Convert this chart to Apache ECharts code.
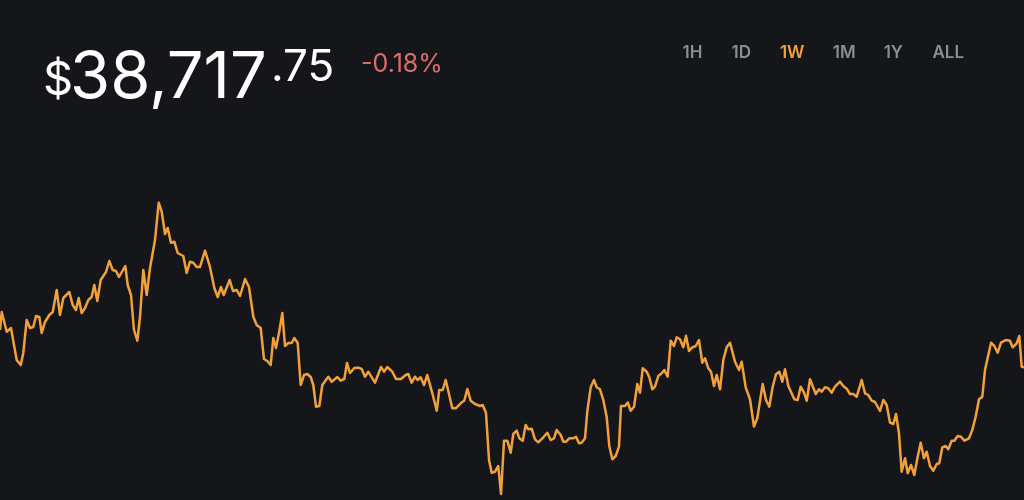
<!DOCTYPE html>
<html>
<head>
<meta charset="utf-8">
<script src="https://cdn.jsdelivr.net/npm/echarts@6/dist/echarts.min.js"></script>
<style>
html,body{margin:0;padding:0;background:#15161a;}
#chart{width:1024px;height:500px;}
</style>
</head>
<body>
<div id="chart"></div>
<script>
// hours since start of the week
const hours = [0,0.28,1.10,1.80,2.74,3.40,3.82,4.38,4.92,5.46,5.91,6.45,6.84,7.38,8.09,8.65,9.30,9.84,10.39,11.37,11.93,12.47,12.91,13.40,13.95,14.49,15.04,15.47,15.96,16.52,17.39,17.93,18.49,19.03,19.52,20.56,20.95,21.49,21.98,22.53,22.97,23.51,24.07,24.61,25.43,26.04,26.53,27.07,27.51,28.05,28.60,29.15,30.07,30.63,31.17,31.71,32.27,32.81,33.63,34.45,35.16,35.72,36.26,36.70,37.68,38.23,38.83,39.38,40.20,40.85,41.56,42.11,42.77,43.31,43.85,44.41,44.84,45.28,45.77,46.32,46.76,47.30,47.86,48.28,48.84,49.33,49.88,50.42,50.97,51.40,51.84,52.39,52.88,53.86,54.42,55.34,55.90,56.49,56.93,57.42,58.13,58.78,59.34,59.88,60.42,61.52,62.51,63.00,63.54,64.36,64.97,65.79,66.56,66.99,67.54,68.09,68.53,69.02,69.56,70.10,70.93,71.65,72.07,72.63,73.12,74.21,74.76,75.75,76.17,76.67,77.22,77.93,78.75,79.19,79.73,80.23,80.67,81.21,81.75,82.20,82.69,83.23,83.79,84.21,84.77,85.20,85.76,86.25,86.68,87.23,87.77,88.31,89.14,89.79,90.35,90.89,91.33,91.99,92.42,92.86,93.40,94.06,94.50,94.99,95.43,95.98,96.35,96.91,97.45,97.90,98.44,98.98,99.54,99.96,100.46,101.01,101.55,101.88,102.54,102.98,103.47,104.02,104.56,105.00,105.44,106.10,106.53,107.02,107.46,108.00,108.56,108.99,109.54,110.04,110.58,111.02,111.56,112.10,112.55,113.04,113.58,114.14,114.68,115.22,115.67,116.21,116.65,117.14,117.58,118.13,118.67,119.22,119.77,120.59,121.24,121.68,122.34,123.05,123.70,124.24,125.13,125.67,126.21,126.77,127.31,127.85,128.34,128.79,129.33,130.32,130.87,131.36,131.91,132.35,132.89,133.83,134.37,134.81,135.35,135.89,136.45,136.99,137.81,138.35,138.91,139.45,139.99,140.55,141.37,141.91,142.45,143.01,143.55,144.38,144.92,145.47,146.02,146.56,147.00,147.49,147.93,148.48,148.92,149.46,150.00,150.56,151.05,151.59,152.03,152.58,153.12,153.68,154.10,154.60,155.15,155.58,156.14,156.57,157.12,157.66,158.21,158.97,159.52,160.07,160.62,161.16,161.60,162.59,163.13,163.68,164.23,165.00,165.70,166.14,166.80,167.23,167.62,168];
// BTC price (USD)
const prices = [39090,39270,39073,39110,38790,38740,38860,39190,39110,39120,39230,39220,39060,39170,39240,39270,39490,39240,39410,39470,39340,39290,39410,39260,39310,39390,39420,39540,39380,39590,39670,39780,39690,39680,39620,39730,39540,39440,39090,38983,39220,39690,39440,39710,39990,40363,40273,40050,40110,39963,39973,39860,39830,39660,39773,39763,39720,39720,39883,39720,39510,39420,39520,39440,39590,39480,39490,39430,39600,39520,39223,39140,39110,38800,38780,38740,39010,38910,39060,39260,38930,38960,38960,39010,38960,38540,38640,38650,38620,38540,38323,38330,38540,38623,38573,38620,38583,38600,38760,38660,38710,38713,38700,38623,38673,38563,38720,38673,38720,38673,38600,38600,38640,38650,38563,38623,38590,38617,38540,38640,38457,38283,38490,38490,38590,38307,38307,38367,38383,38500,38383,38350,38330,38340,38263,37790,37663,37673,37730,37450,37983,37983,37863,38050,38083,38007,37983,38140,38097,38103,37997,37967,38017,38063,37990,38007,38090,38040,37973,37973,38007,38007,38023,37957,37963,38007,38273,38517,38590,38517,38497,38390,38217,37930,37797,37830,37923,38330,38330,38365,38283,38323,38550,38463,38707,38673,38617,38497,38523,38630,38657,38690,38623,38983,38930,39017,38997,38917,39033,38880,38917,38930,38990,38763,38807,38707,38673,38530,38640,38497,38790,38917,38963,38773,38690,38773,38517,38395,38125,38207,38550,38390,38323,38523,38647,38673,38573,38697,38530,38397,38390,38523,38463,38383,38597,38450,38497,38473,38517,38507,38463,38523,38573,38530,38503,38450,38450,38423,38590,38457,38440,38383,38370,38280,38390,38340,38163,38150,38250,38057,37673,37807,37657,37740,37640,37823,37963,37807,37873,37730,37683,37750,37757,37917,37930,37897,37983,37983,38030,38023,37983,38007,38090,38223,38397,38423,38690,38963,38930,38863,38963,38990,38983,38917,38957,39030,38723,38718];
const ranges = ['1H','1D','1W','1M','1Y','ALL'];
const activeRange = '1W';
const priceWhole = '38,717';
const priceCents = '.75';
const changeText = '-0.18%';

const chart = echarts.init(document.getElementById('chart'));
const FONT = 'Inter, "Noto Sans", sans-serif';
const btnCenters = [692.5, 741.3, 792.2, 844.2, 893.3, 948.3];
const graphics = [
  {type:'text', left:43, top:57, style:{text:'$', fontSize:47, fontFamily:FONT, fontWeight:400, fill:'#ffffff'}},
  {type:'text', left:70, top:46, style:{text:priceWhole, fontSize:65, fontFamily:FONT, fontWeight:400, fill:'#ffffff'}},
  {type:'text', left:271, top:46, style:{text:priceCents, fontSize:44, fontFamily:FONT, fontWeight:400, fill:'#ffffff'}},
  {type:'text', left:361, top:52, style:{text:changeText, fontSize:25, fontFamily:FONT, fontWeight:400, fill:'#df6b6d'}}
];
ranges.forEach((r,i)=>{
  graphics.push({type:'text', x:btnCenters[i], y:53, style:{text:r, fontSize:17, fontFamily:FONT, fontWeight:600, fill: r===activeRange ? '#f2a13a' : '#8a8d96', align:'center', verticalAlign:'middle'}});
});

chart.setOption({
  backgroundColor:'#15161a',
  animation:false,
  grid:{left:0, right:0, top:200, bottom:0},
  xAxis:{type:'value', min:0, max:168, show:false},
  yAxis:{type:'value', min:37390, max:40390, show:false},
  graphic:graphics,
  series:[{
    type:'line',
    data:hours.map((h,i)=>[h, prices[i]]),
    showSymbol:false,
    smooth:false,
    lineStyle:{color:'#f2a13a', width:2.5, join:'round'},
    silent:true
  }]
});
</script>
</body>
</html>
